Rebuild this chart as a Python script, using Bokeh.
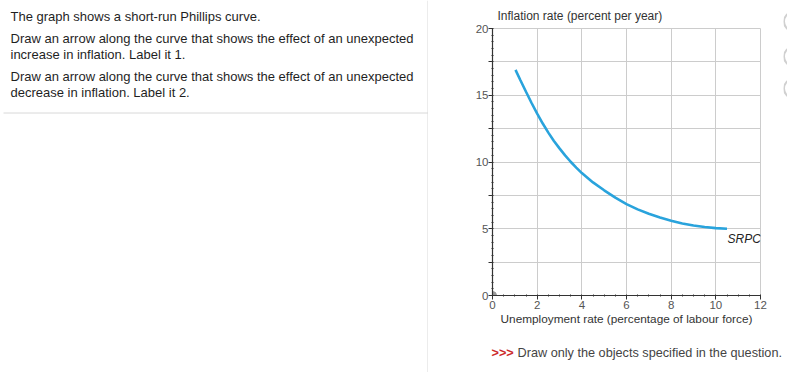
from bokeh.plotting import figure
from bokeh.layouts import row, column
from bokeh.models import Range1d, Label, FixedTicker, ColumnDataSource, Title
from bokeh.core.properties import value
from bokeh.embed import file_html
from bokeh.resources import INLINE

# ---------------- data ----------------
question_lines = [
    "The graph shows a short-run Phillips curve.",
    "Draw an arrow along the curve that shows the effect of an unexpected",
    "increase in inflation. Label it 1.",
    "Draw an arrow along the curve that shows the effect of an unexpected",
    "decrease in inflation. Label it 2.",
]
unemployment = [1.03, 1.25, 1.5, 1.75, 2.0, 2.25, 2.5, 2.75, 3.0, 3.25, 3.5, 3.75, 4.0,
                4.5, 5.0, 5.5, 6.0, 6.5, 7.0, 7.5, 8.0, 8.5, 9.0, 9.5, 10.0, 10.5]
inflation = [16.9, 16.12, 15.26, 14.42, 13.62, 12.88, 12.2, 11.58, 11.02, 10.5, 10.02, 9.58, 9.17,
             8.47, 7.88, 7.33, 6.85, 6.45, 6.12, 5.84, 5.6, 5.4, 5.24, 5.13, 5.05, 5.0]
curve_label = "SRPC"
origin_x = [0]
origin_y = [0]
x_ticks = [0, 2, 4, 6, 8, 10, 12]
y_ticks = [0, 2.5, 5, 7.5, 10, 12.5, 15, 17.5, 20]
y_tick_labels = {0: "0", 5: "5", 10: "10", 15: "15", 20: "20"}
x_title = "Unemployment rate (percentage of labour force)"
y_title = "Inflation rate (percent per year)"
note_mark = ">>>"
note_text = "Draw only the objects specified in the question."

FONT = "Liberation Sans"
PAGE_W, PAGE_H = 787, 372
LEFT_W = 428
CHART_W, CHART_H = 355, 336
EDGE_W = PAGE_W - LEFT_W - CHART_W
NOTE_H = PAGE_H - CHART_H


def blank(width, height, x0, x1, y0, y1):
    f = figure(width=width, height=height, x_range=Range1d(x0, x1), y_range=Range1d(y1, y0),
               x_axis_type=None, y_axis_type=None, output_backend="svg",
               toolbar_location=None, min_border=0, frame_align=False)
    f.grid.visible = False
    f.outline_line_color = None
    return f


# ---------------- left panel (question text), page pixel coordinates ----------------
left = blank(LEFT_W, PAGE_H, 0, LEFT_W, 0, PAGE_H)
baselines = [15.6, 37.6, 53.8, 75.6, 91.8]
left.text(x=[10] * len(question_lines), y=baselines, text=question_lines,
          text_font=value(FONT), text_font_size="13px", text_color="#1f1f1f",
          text_baseline="alphabetic", text_align="left")
left.segment(x0=[427.5, 3], y0=[0, 112.5], x1=[427.5, 427.5], y1=[PAGE_H, 112.5],
             line_color="#d8d8d8", line_width=1)

# ---------------- chart ----------------
p = figure(width=CHART_W, height=CHART_H, x_range=Range1d(0, 12), y_range=Range1d(0, 20),
           output_backend="svg", toolbar_location=None, frame_align=False,
           min_border_left=64, min_border_right=CHART_W - 64 - 268, min_border_top=28,
           min_border_bottom=CHART_H - 28 - 267)
p.outline_line_color = "#cccccc"

p.add_layout(Title(text=y_title, align="left", offset=5, standoff=11,
                   text_font=FONT, text_font_size="12px", text_font_style="normal",
                   text_color="#333333"), "above")

x_minor = [i * 0.5 for i in range(0, 25)]
y_minor = [i * 0.5 for i in range(0, 41)]
p.xaxis.ticker = FixedTicker(ticks=x_ticks, minor_ticks=x_minor)
p.yaxis.ticker = FixedTicker(ticks=y_ticks, minor_ticks=y_minor)
p.yaxis.major_label_overrides = {t: y_tick_labels.get(t, "") for t in y_ticks}
p.xgrid.ticker = FixedTicker(ticks=x_ticks)
p.ygrid.ticker = FixedTicker(ticks=y_ticks)
p.grid.grid_line_color = "#cccccc"
p.grid.grid_line_width = 1

for ax in (p.xaxis, p.yaxis):
    ax.axis_line_color = "#333333"
    ax.axis_line_width = 1.2
    ax.major_tick_line_color = "#333333"
    ax.minor_tick_line_color = "#333333"
    ax.major_tick_out = 4
    ax.major_tick_in = 0
    ax.minor_tick_out = 1
    ax.minor_tick_in = 1
    ax.major_label_text_font = FONT
    ax.major_label_text_font_size = "11.5px"
    ax.major_label_text_color = "#555555"
p.xaxis.major_label_standoff = 1
p.yaxis.major_label_standoff = 0

p.xaxis.axis_label = x_title
p.xaxis.axis_label_text_font = FONT
p.xaxis.axis_label_text_font_size = "11.8px"
p.xaxis.axis_label_text_font_style = "normal"
p.xaxis.axis_label_text_color = "#333333"
p.xaxis.axis_label_standoff = 0

src = ColumnDataSource(data=dict(x=unemployment, y=inflation))
p.line("x", "y", source=src, line_color="#29a3dc", line_width=2.6)
p.scatter(x=origin_x, y=origin_y, size=8, color="#9a9a9a")

p.add_layout(Label(x=unemployment[-1], y=inflation[-1], text=curve_label, x_offset=0.5, y_offset=-10,
                   text_font=FONT, text_font_size="12px", text_font_style="italic",
                   text_color="#222222", text_baseline="middle", text_align="left"))

# ---------------- note under the chart, page pixel coordinates ----------------
note = blank(CHART_W, NOTE_H, LEFT_W, LEFT_W + CHART_W, CHART_H, PAGE_H)
note.text(x=[491], y=[352], text=[note_mark], text_font=value(FONT), text_font_size="12.7px",
          text_font_style="bold", text_color="#cc2a2a", text_baseline="alphabetic")
note.text(x=[517], y=[352], text=[note_text], text_font=value(FONT), text_font_size="12.7px",
          text_color="#444444", text_baseline="alphabetic")

# ---------------- right edge (partly visible round buttons) ----------------
edge = blank(EDGE_W, PAGE_H, LEFT_W + CHART_W, PAGE_W, 0, PAGE_H)
edge.scatter(x=[793, 793, 793], y=[21, 56, 88], size=19, fill_color=None,
             line_color="#d0d0d0", line_width=2)

layout = row(left, column(p, note), edge)
open("out.html", "w").write(file_html(layout, INLINE))
